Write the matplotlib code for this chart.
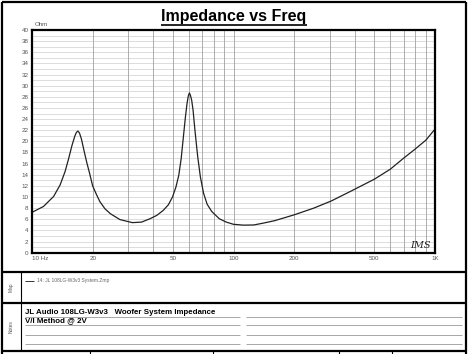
import matplotlib
matplotlib.use('Agg')
import matplotlib.pyplot as plt
from matplotlib.lines import Line2D
from matplotlib.ticker import FixedLocator, NullFormatter

plt.rcParams['font.family'] = ['Liberation Sans', 'DejaVu Sans']

# impedance curve (Hz, Ohm)
freq = [10, 11.4, 12.8, 13.8, 14.6, 15.2, 15.8, 16.3, 16.6, 16.9, 17.2, 17.6,
        18.1, 18.7, 19.3, 20.0, 20.8, 21.7, 23.0, 24.5, 27.3, 31.5, 35, 38.5,
        41.6, 44.8, 47.5, 49.8, 51.8, 53.5, 55.0, 56.4, 57.7, 58.8, 59.7, 60.4,
        61.1, 62.0, 63.0, 64.4, 66.4, 68.5, 71.0, 74, 78, 85, 92, 100, 112,
        126, 140, 160, 200, 250, 306, 380, 500, 600, 700, 790, 900, 1000]
imp = [7.25, 8.3, 10.1, 12.2, 14.6, 16.9, 19.3, 20.9, 21.6, 21.85, 21.5, 20.4,
       18.4, 16.2, 14.3, 12.0, 10.6, 9.2, 7.9, 7.0, 5.95, 5.4, 5.5, 6.1,
       6.7, 7.6, 8.6, 10.0, 11.8, 13.9, 16.9, 20.8, 24.3, 26.8, 28.2, 28.7,
       28.3, 27.4, 25.6, 21.9, 17.3, 13.6, 10.7, 8.7, 7.4, 6.1, 5.5, 5.1, 4.95,
       4.98, 5.3, 5.75, 6.8, 8.0, 9.3, 11.0, 13.2, 15.0, 17.0, 18.5, 20.2, 22.2]

xticks = [10, 20, 50, 100, 200, 500, 1000]
xticklabels = ['10 Hz', '20', '50', '100', '200', '500', '1K']
yticks = list(range(0, 41, 2))
vgrid = list(range(10, 100, 10)) + list(range(100, 1001, 100))
hgrid = list(range(0, 41))

title = 'Impedance vs Freq'
legend_text = '14: JL 108LG-W3v3 System.Zmp'
notes = ['JL Audio 108LG-W3v3   Woofer System Impedance', 'V/I Method @ 2V']

W, H = 468, 354
fig = plt.figure(figsize=(W / 100, H / 100), dpi=100)


def fx(x):
    return x / W


def fy(y):
    return 1 - y / H


def hline(x0, x1, y, lw=1.0, color='black'):
    fig.add_artist(Line2D([fx(x0), fx(x1)], [fy(y), fy(y)], lw=lw, color=color,
                          transform=fig.transFigure, solid_capstyle='butt'))


def vline(x, y0, y1, lw=1.0, color='black'):
    fig.add_artist(Line2D([fx(x), fx(x)], [fy(y0), fy(y1)], lw=lw, color=color,
                          transform=fig.transFigure, solid_capstyle='butt'))


ax = fig.add_axes([fx(32), fy(252.7), fx(435) - fx(32), fy(30) - fy(252.7)])
ax.set_xscale('log')
ax.set_xlim(10, 1000)
ax.set_ylim(0, 40)

for g in hgrid:
    ax.axhline(g, color='#cfcfcf', lw=0.5, zorder=0)
for g in vgrid:
    ax.axvline(g, color='#a0a0a0', lw=0.6, zorder=0)

ax.plot(freq, imp, color='#222222', lw=0.9)

ax.xaxis.set_major_locator(FixedLocator(xticks))
ax.xaxis.set_minor_formatter(NullFormatter())
ax.set_xticks(xticks)
ax.set_xticklabels(xticklabels)
ax.set_yticks(yticks)
ax.tick_params(axis='both', length=0, labelsize=4.5, labelcolor='#555555')
ax.tick_params(axis='y', pad=2.5)
ax.tick_params(axis='x', pad=2.5)
ax.tick_params(which='minor', length=0)
ax.get_xticklabels()[0].set_horizontalalignment('left')
for s in ax.spines.values():
    s.set_linewidth(1.6)

ax.text(0.008, 1.012, 'Ohm', transform=ax.transAxes, fontsize=4.5, color='#555555',
        ha='left', va='bottom')
ax.text(0.963, 0.033, 'IMS', transform=ax.transAxes, fontsize=7, color='#222222',
        family='DejaVu Serif', style='italic', ha='center', va='center')

# title with underline
t = fig.text(0.5, fy(16), title, ha='center', va='center', fontsize=11.5,
             fontweight='bold')
fig.canvas.draw()
bb = t.get_window_extent()
hline(bb.x0, bb.x1, 24.5, lw=1.2)

# outer frame and table rows
hline(2, 466, 2, lw=1.6)
vline(2, 2, 354, lw=1.6)
vline(466, 2, 354, lw=1.6)
hline(2, 466, 272, lw=1.6)
hline(2, 466, 303, lw=1.6)
hline(2, 466, 351, lw=1.6)
vline(20.7, 272, 351, lw=0.8)
for x in [90, 213, 339, 392]:
    vline(x, 351, 354, lw=0.8)

fig.text(fx(11), fy(287.5), 'Map', rotation=90, fontsize=3.5, color='#555555',
         ha='center', va='center')
fig.text(fx(11), fy(327), 'Notes', rotation=90, fontsize=3.5, color='#555555',
         ha='center', va='center')

# legend entry in the map row
hline(25, 34, 280.5, lw=0.7, color='#333333')
fig.text(fx(37), fy(280.5), legend_text, fontsize=3.5, color='#666666',
         ha='left', va='center')

# notes lines
for y in [316.7, 325, 335, 344]:
    hline(25, 240, y, lw=0.6, color='#999999')
    hline(246, 462, y, lw=0.6, color='#999999')
fig.text(fx(25), fy(312.5), notes[0], fontsize=5.7, fontweight='bold', ha='left',
         va='center')
fig.text(fx(25), fy(321), notes[1], fontsize=5.7, fontweight='bold', ha='left',
         va='center')

fig.savefig('out.png', dpi=100)
